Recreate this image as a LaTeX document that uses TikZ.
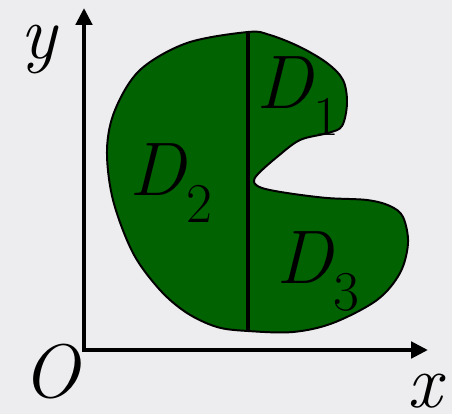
\documentclass[tikz,border=0pt]{standalone}
\usepackage{fontspec}
\usetikzlibrary{arrows.meta,positioning}
\definecolor{bggray}{RGB}{237,237,239}
\definecolor{regiongreen}{RGB}{0,98,0}

\newcommand{\subreg}[1]{{\itshape D}\kern0.02em\raisebox{-0.36em}{\upshape\fontsize{40}{40}\selectfont\addfontfeatures{FakeBold=0.8}#1}}

\begin{document}
\begin{tikzpicture}[x=0.025cm, y=-0.025cm,
    lbl/.style={inner sep=0pt, font=\fontsize{54}{54}\selectfont\addfontfeatures{FakeBold=0.8}},
    axis/.style={line width=2.9pt, -{Triangle[length=12pt, width=11.5pt]}},
    blob/.style={draw=black, line width=1.4pt, fill=regiongreen}]
  % background and size
  \fill[bggray] (0,0) rectangle (452,414);
  \useasboundingbox (0,0) rectangle (452,414);

  % the region
  \draw[blob] plot[smooth cycle, tension=0.55] coordinates {
    (248,32) (187,43) (140,70) (115,110) (107,150) (113,200) (133,253)
    (160,290) (187,313) (217,327) (248,331) (293,332) (333,323) (377,300)
    (400,273) (408,243) (403,217) (390,206) (367,200) (327,198) (287,193)
    (262,188) (254,182) (258,174) (277,157) (300,140) (328,133) (342,126)
    (347,103) (343,80) (327,63) (300,47) (270,35)};
  \coordinate (top) at (248,32);
  \coordinate (bottom) at (248,331);
  \draw[line width=2.6pt] (top) -- (bottom);

  % axes
  \coordinate (O) at (84,350);
  \coordinate (xend) at (428,350);
  \coordinate (yend) at (84,8);
  \draw[axis] (O) -- (xend);
  \draw[axis] ([yshift=-1.4pt]O) -- (yend);

  % labels
  \node[lbl, anchor=base] (olbl) at (51,397) {\itshape O};
  \node[lbl, anchor=base] (xlbl) at (425,407) {\itshape x};
  \node[lbl, anchor=base] (ylbl) at (39,58) {\itshape y};
  \node[lbl, anchor=base west] (d1) at (256,108) {\subreg{1}};
  \node[lbl, anchor=base west] (d2) at (129,195) {\subreg{2}};
  \node[lbl, anchor=base west] (d3) at (276,283) {\subreg{3}};
\end{tikzpicture}
\end{document}
